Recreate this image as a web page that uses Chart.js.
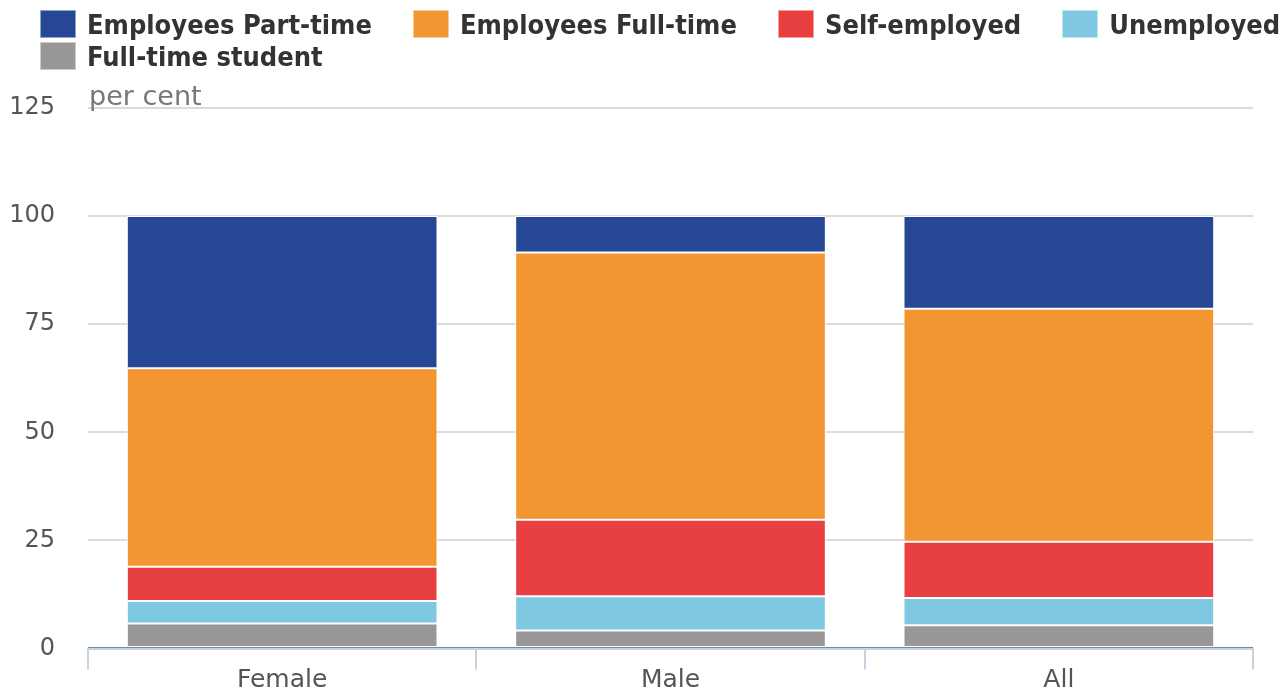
<!DOCTYPE html>
<html>
<head>
<meta charset="utf-8">
<script src="https://cdn.jsdelivr.net/npm/chart.js@4"></script>
<style>
  html, body { margin: 0; padding: 0; background: #fff; overflow: hidden; }
  #wrap { position: relative; width: 1283px; height: 690px; overflow: hidden; }
  #chart { display: block; }
  #legend {
    position: absolute; left: 40px; top: 10px; width: 1260px;
    display: flex; flex-wrap: wrap; column-gap: 41px; row-gap: 4px;
    font: bold 27px "DejaVu Sans Condensed", "DejaVu Sans", sans-serif; color: #333;
  }
  .item { display: flex; align-items: center; height: 28px; white-space: nowrap; }
  .box { width: 36px; height: 28px; margin-right: 11px; box-sizing: border-box; border: 1px solid rgba(255,255,255,0.5); }
</style>
</head>
<body>
<div id="wrap">
  <canvas id="chart" width="1283" height="696"></canvas>
  <div id="legend"></div>
</div>
<script>
// categories along the x axis
const categories = ['Female', 'Male', 'All'];

// series, bottom of the stack first
const fullTimeStudent = [5.8, 4.2, 5.4];
const unemployed = [5.2, 7.9, 6.3];
const selfEmployed = [7.9, 17.7, 13.0];
const employeesFullTime = [45.9, 61.8, 53.9];
const employeesPartTime = [35.2, 8.4, 21.4];

const yTicks = [0, 25, 50, 75, 100, 125];

const series = [
  { label: 'Full-time student', data: fullTimeStudent, color: '#999896' },
  { label: 'Unemployed', data: unemployed, color: '#7ec8e1' },
  { label: 'Self-employed', data: selfEmployed, color: '#e83f40' },
  { label: 'Employees Full-time', data: employeesFullTime, color: '#f39530' },
  { label: 'Employees Part-time', data: employeesPartTime, color: '#264796' }
];

// "per cent" unit label above the plot
const unitLabel = {
  id: 'unitLabel',
  afterDraw(chart) {
    const { ctx, chartArea } = chart;
    ctx.save();
    ctx.font = '27px "DejaVu Sans", sans-serif';
    ctx.fillStyle = '#777';
    ctx.textAlign = 'left';
    ctx.textBaseline = 'alphabetic';
    ctx.fillText('per cent', chartArea.left + 1, chartArea.top - 3);
    ctx.restore();
  }
};

const chart = new Chart(document.getElementById('chart'), {
  type: 'bar',
  data: {
    labels: categories,
    datasets: series.map(s => ({
      label: s.label,
      data: s.data,
      backgroundColor: s.color,
      borderColor: '#fff',
      borderWidth: 1,
      borderSkipped: false,
      categoryPercentage: 1,
      barPercentage: 0.8
    }))
  },
  options: {
    responsive: false,
    animation: false,
    layout: { autoPadding: false, padding: { top: 108, right: 30, left: 0, bottom: 0 } },
    plugins: {
      legend: { display: false },
      tooltip: { enabled: false }
    },
    scales: {
      x: {
        stacked: true,
        grid: {
          offset: true,
          drawOnChartArea: false,
          drawTicks: true,
          tickLength: 21,
          color: '#c5d3e3',
          lineWidth: 2
        },
        border: { display: true, color: '#c5d3e3', width: 2 },
        ticks: {
          padding: -4,
          color: '#555',
          font: { family: 'DejaVu Sans', size: 25 }
        }
      },
      y: {
        stacked: true,
        min: 0,
        max: 125,
        afterBuildTicks(scale) { scale.ticks = yTicks.map(v => ({ value: v })); },
        grid: {
          drawTicks: false,
          color: ctx => ctx.tick && ctx.tick.value === 0 ? '#7d8894' : '#dcdcdc',
          lineWidth: ctx => ctx.tick && ctx.tick.value === 0 ? 3 : 2
        },
        border: { display: false },
        ticks: {
          padding: 33,
          color: '#555',
          font: { family: 'DejaVu Sans', size: 24 }
        },
        afterFit(scale) { scale.width = 88; }
      }
    }
  },
  plugins: [unitLabel]
});

// legend in the order shown in the original: top of the stack first
const legendEl = document.getElementById('legend');
chart.data.datasets.slice().reverse().forEach(ds => {
  const item = document.createElement('div');
  item.className = 'item';
  const box = document.createElement('span');
  box.className = 'box';
  box.style.background = ds.backgroundColor;
  const txt = document.createElement('span');
  txt.textContent = ds.label;
  item.appendChild(box);
  item.appendChild(txt);
  legendEl.appendChild(item);
});
</script>
</body>
</html>
